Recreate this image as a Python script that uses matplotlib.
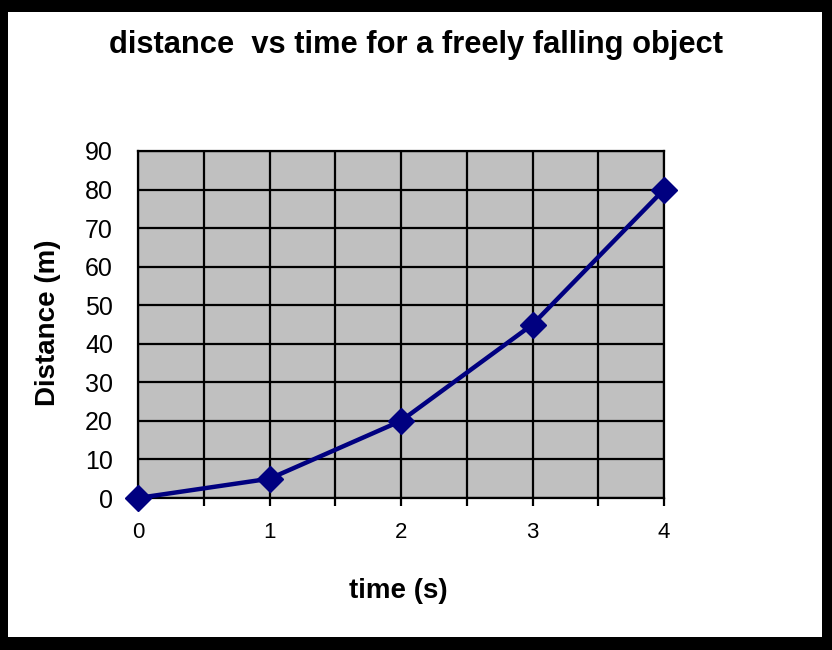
import matplotlib
matplotlib.use("Agg")
import matplotlib.pyplot as plt
from matplotlib.patches import Rectangle

time_s = [0, 1, 2, 3, 4]
distance_m = [0, 5, 20, 45, 80]
x_ticks = [0, 1, 2, 3, 4]
y_ticks = [0, 10, 20, 30, 40, 50, 60, 70, 80, 90]

plt.rcParams['font.family'] = ['Liberation Sans', 'DejaVu Sans']

fig = plt.figure(figsize=(8.32, 6.50), dpi=100)
fig.patch.set_facecolor('black')
bg = fig.add_axes([0, 0, 1, 1], zorder=-10)
bg.set_xlim(0, 832)
bg.set_ylim(650, 0)
bg.axis('off')
bg.add_patch(Rectangle((8, 12), 822 - 8, 637 - 12, facecolor='white', edgecolor='none'))

ax = fig.add_axes([138/832, 1 - 498/650, (664-138)/832, (498-151)/650], zorder=5)
ax.set_facecolor('#c0c0c0')
ax.set_xlim(0, 4)
ax.set_ylim(0, 90)
ax.set_xticks(x_ticks)
ax.set_xticks([0.5, 1.5, 2.5, 3.5], minor=True)
ax.set_yticks(y_ticks)
ax.grid(True, which='both', color='black', linewidth=1.6)
ax.set_axisbelow(True)
for s in ax.spines.values():
    s.set_color('black')
    s.set_linewidth(1.6)

ax.plot(time_s, distance_m, color='#000080', linewidth=3.2, marker='D',
        markersize=13, markerfacecolor='#000080', markeredgecolor='#000080',
        clip_on=False, zorder=5)

ax.tick_params(axis='x', which='both', length=6, width=1.6, direction='out')
ax.tick_params(axis='x', which='major', pad=11, labelsize=16)
ax.tick_params(axis='y', length=0, pad=18, labelsize=18)

fig.text(416/832, 1 - 45/650, 'distance  vs time for a freely falling object',
         ha='center', va='center', fontsize=22.2, fontweight='bold')
fig.text(398/832, 1 - 591/650, 'time (s)', ha='center', va='center',
         fontsize=20, fontweight='bold')
fig.text(48/832, 1 - 323/650, 'Distance (m)', ha='center', va='center',
         rotation=90, fontsize=20, fontweight='bold')

fig.savefig('out.png', dpi=100, facecolor=fig.get_facecolor())
